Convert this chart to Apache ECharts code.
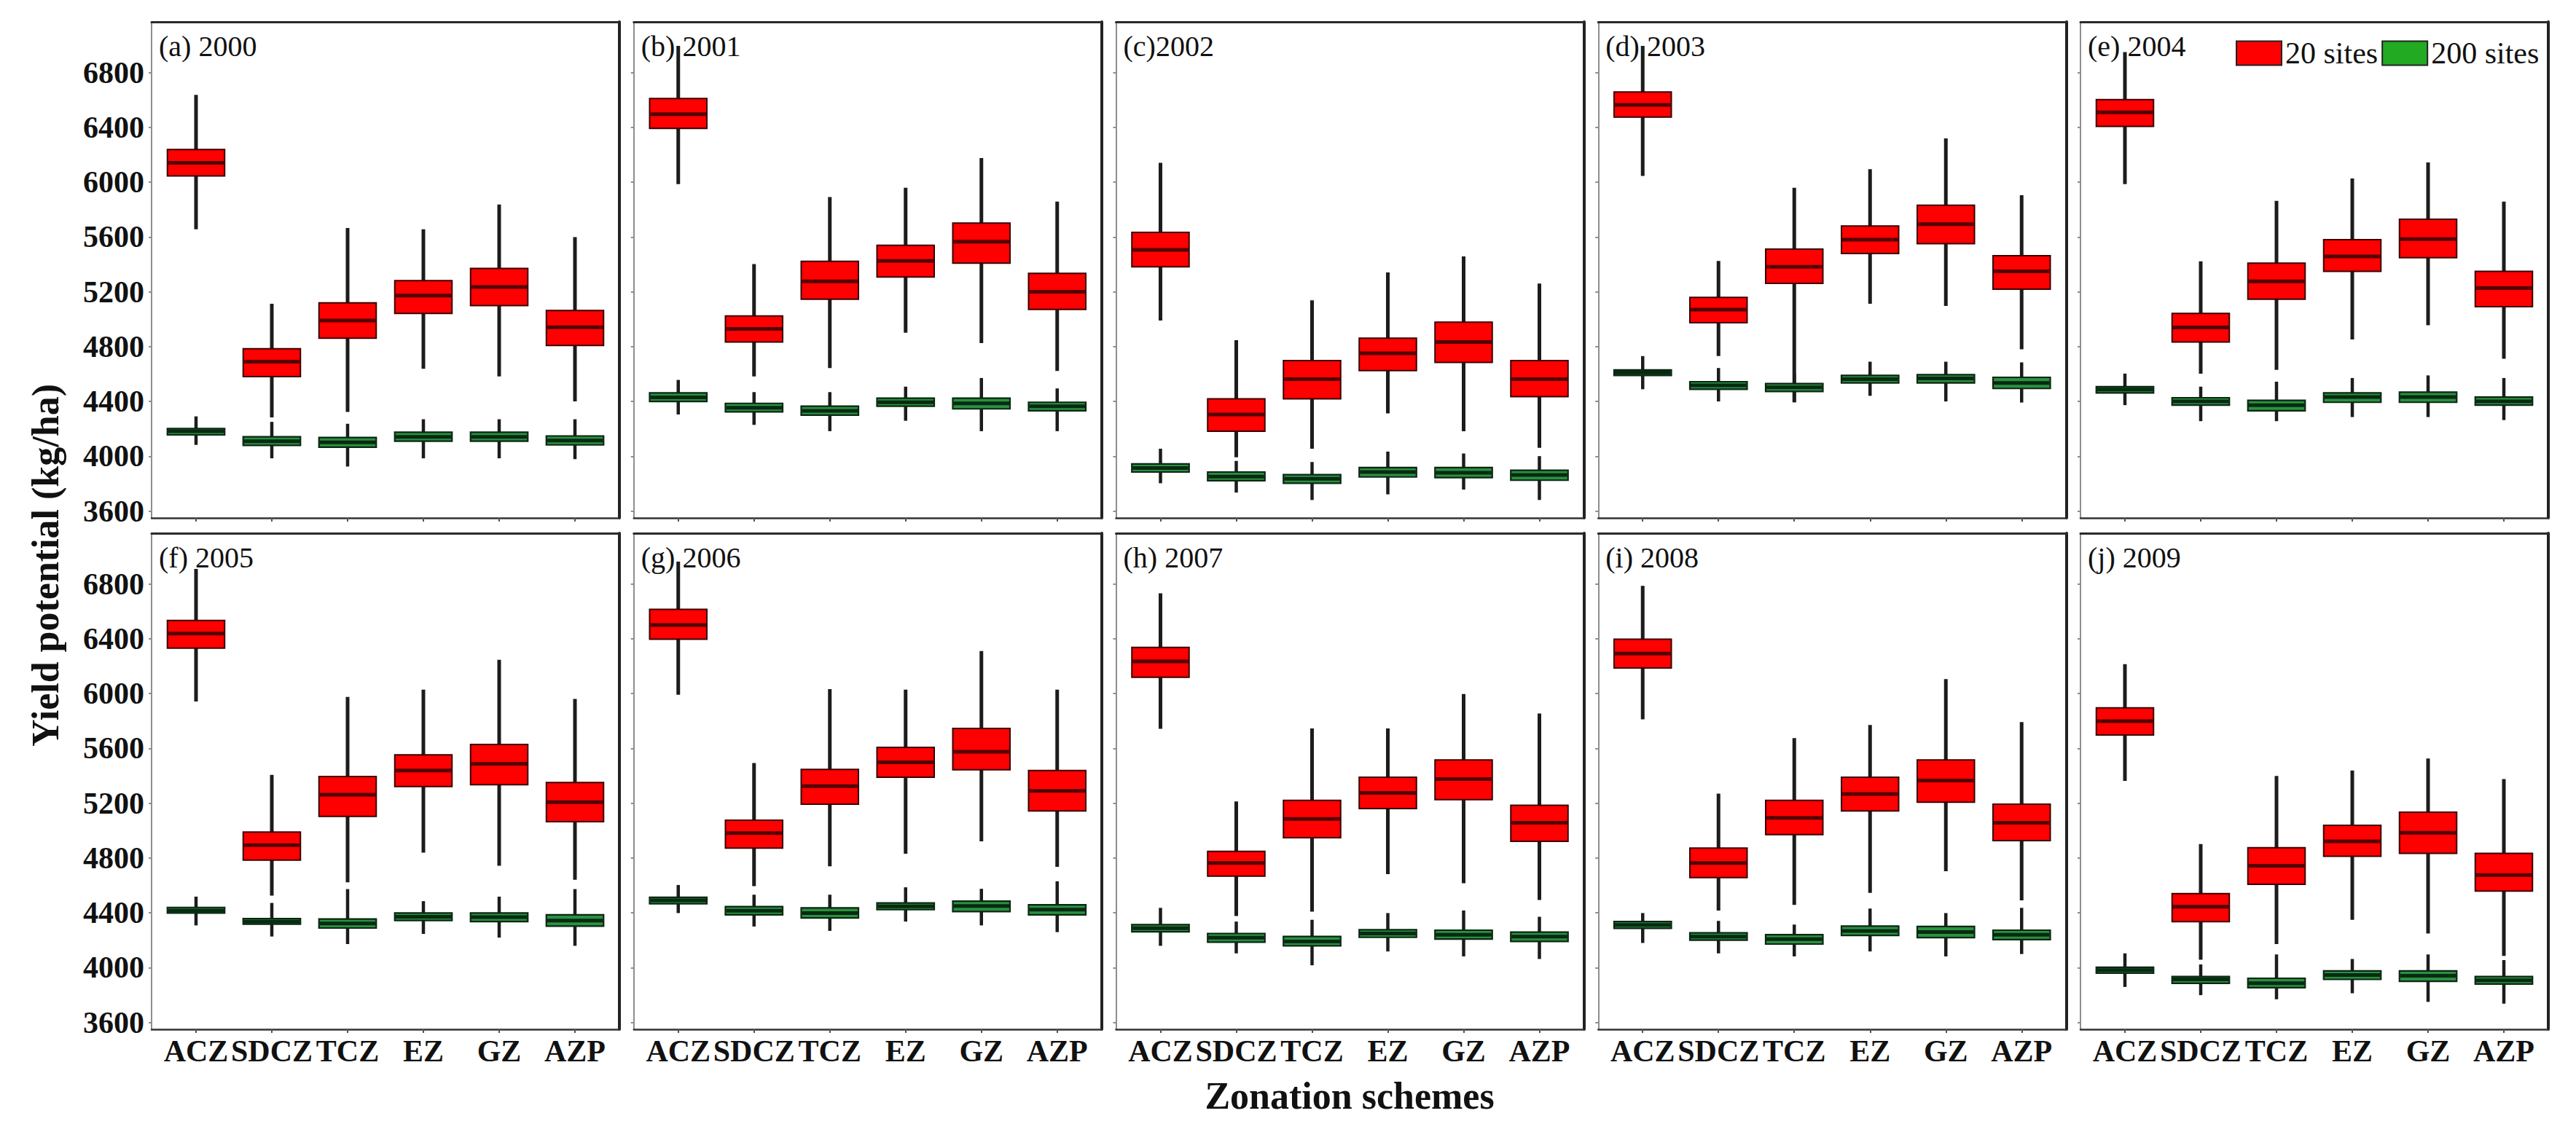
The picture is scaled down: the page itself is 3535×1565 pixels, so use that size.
<!DOCTYPE html>
<html><head><meta charset="utf-8">
<script src="https://cdn.jsdelivr.net/npm/echarts@6/dist/echarts.min.js"></script>
<style>html,body{margin:0;padding:0;background:#fff;overflow:hidden}#main{width:3535px;height:1565px}</style>
</head><body><div id="main"></div>
<script>
// ---------- data ----------
const categories = ['ACZ', 'SDCZ', 'TCZ', 'EZ', 'GZ', 'AZP'];
const years = ['2000', '2001', '2002', '2003', '2004', '2005', '2006', '2007', '2008', '2009'];
const panelLabels = ['(a) 2000', '(b) 2001', '(c)2002', '(d) 2003', '(e) 2004', '(f) 2005', '(g) 2006', '(h) 2007', '(i) 2008', '(j) 2009'];
const yTicks = [3600, 4000, 4400, 4800, 5200, 5600, 6000, 6400, 6800];
const seriesNames = ['20 sites', '200 sites'];

// each entry: [min, Q1, median, Q3, max] per category (ACZ..AZP)
const red2000 = [[5656, 6046, 6141, 6239, 6637], [4283, 4581, 4690, 4785, 5113], [4324, 4861, 4991, 5119, 5666], [4639, 5043, 5173, 5281, 5656], [4582, 5100, 5235, 5371, 5837], [4400, 4809, 4942, 5064, 5599]];
const green2000 = [[4083, 4156, 4183, 4202, 4291], [3985, 4080, 4110, 4142, 4251], [3925, 4066, 4102, 4137, 4237], [3985, 4110, 4142, 4175, 4270], [3985, 4110, 4142, 4175, 4270], [3979, 4083, 4115, 4148, 4270]];
const red2001 = [[5986, 6393, 6496, 6610, 6995], [4582, 4834, 4929, 5024, 5403], [4644, 5146, 5276, 5422, 5891], [4902, 5308, 5425, 5539, 5959], [4826, 5409, 5566, 5702, 6176], [4622, 5072, 5200, 5335, 5859]];
const green2001 = [[4305, 4400, 4430, 4462, 4557], [4229, 4324, 4354, 4386, 4468], [4183, 4300, 4332, 4365, 4468], [4259, 4365, 4394, 4424, 4508], [4183, 4346, 4386, 4424, 4571], [4183, 4332, 4365, 4394, 4495]];
const red2002 = [[4991, 5382, 5506, 5634, 6141], [3993, 4183, 4305, 4419, 4847], [4055, 4419, 4563, 4698, 5138], [4313, 4625, 4752, 4861, 5341], [4183, 4685, 4834, 4978, 5458], [4061, 4435, 4563, 4698, 5260]];
const green2002 = [[3803, 3885, 3914, 3944, 4055], [3735, 3822, 3852, 3885, 3966], [3681, 3803, 3836, 3866, 3958], [3722, 3849, 3885, 3917, 4034], [3757, 3844, 3879, 3917, 4020], [3681, 3825, 3863, 3898, 4001]];
const red2003 = [[6046, 6475, 6564, 6659, 6995], [4731, 4975, 5070, 5159, 5425], [4394, 5262, 5382, 5512, 5959], [5113, 5479, 5580, 5680, 6095], [5097, 5552, 5693, 5832, 6320], [4780, 5219, 5349, 5463, 5905]];
const green2003 = [[4489, 4590, 4611, 4630, 4731], [4400, 4489, 4517, 4544, 4644], [4394, 4473, 4503, 4530, 4603], [4441, 4535, 4563, 4590, 4690], [4400, 4535, 4568, 4595, 4690], [4392, 4495, 4535, 4576, 4685]];
const red2004 = [[5986, 6407, 6510, 6602, 6949], [4603, 4834, 4940, 5043, 5422], [4630, 5146, 5276, 5409, 5864], [4853, 5349, 5458, 5580, 6027], [4956, 5449, 5585, 5729, 6144], [4712, 5091, 5227, 5349, 5859]];
const green2004 = [[4373, 4462, 4487, 4508, 4603], [4256, 4373, 4400, 4427, 4508], [4256, 4332, 4373, 4408, 4544], [4286, 4394, 4432, 4462, 4571], [4286, 4394, 4432, 4468, 4590], [4264, 4373, 4400, 4432, 4571]];
const red2005 = [[5942, 6332, 6438, 6533, 6909], [4526, 4785, 4894, 4989, 5406], [4622, 5104, 5262, 5395, 5975], [4839, 5321, 5439, 5553, 6029], [4744, 5335, 5488, 5629, 6247], [4641, 5065, 5207, 5351, 5961]];
const green2005 = [[4308, 4398, 4417, 4439, 4518], [4227, 4317, 4336, 4357, 4472], [4172, 4289, 4322, 4355, 4573], [4246, 4344, 4371, 4398, 4485], [4219, 4336, 4368, 4398, 4518], [4159, 4303, 4344, 4385, 4573]];
const red2006 = [[5991, 6397, 6500, 6615, 6963], [4594, 4872, 4981, 5076, 5493], [4739, 5193, 5324, 5447, 6032], [4831, 5389, 5498, 5607, 6029], [4921, 5444, 5575, 5746, 6310], [4736, 5144, 5289, 5439, 6029]];
const green2006 = [[4398, 4466, 4491, 4513, 4603], [4300, 4385, 4415, 4445, 4532], [4268, 4363, 4398, 4436, 4532], [4336, 4423, 4447, 4472, 4586], [4308, 4409, 4450, 4485, 4575], [4259, 4385, 4423, 4458, 4630]];
const red2007 = [[5743, 6119, 6234, 6337, 6732], [4377, 4668, 4763, 4848, 5212], [4409, 4948, 5085, 5221, 5746], [4682, 5161, 5275, 5389, 5746], [4616, 5226, 5376, 5515, 5997], [4494, 4921, 5057, 5185, 5855]];
const green2007 = [[4159, 4262, 4287, 4314, 4436], [4104, 4186, 4219, 4249, 4336], [4017, 4159, 4191, 4227, 4349], [4118, 4221, 4249, 4276, 4398], [4082, 4208, 4240, 4273, 4417], [4063, 4191, 4227, 4259, 4371]];
const red2008 = [[5812, 6187, 6291, 6397, 6786], [4417, 4657, 4763, 4872, 5270], [4458, 4970, 5093, 5221, 5675], [4545, 5144, 5267, 5389, 5771], [4703, 5207, 5365, 5515, 6106], [4491, 4927, 5057, 5193, 5792]];
const green2008 = [[4180, 4287, 4311, 4336, 4398], [4104, 4200, 4227, 4254, 4341], [4082, 4172, 4208, 4240, 4314], [4118, 4235, 4268, 4303, 4431], [4082, 4219, 4259, 4300, 4398], [4099, 4205, 4240, 4273, 4436]];
const red2009 = [[5362, 5697, 5798, 5896, 6215], [4058, 4336, 4445, 4540, 4902], [4172, 4608, 4744, 4875, 5398], [4349, 4812, 4921, 5038, 5439], [4249, 4834, 4984, 5134, 5526], [4085, 4559, 4676, 4834, 5376]];
const green2009 = [[3859, 3960, 3982, 4003, 4104], [3799, 3886, 3914, 3935, 4023], [3769, 3854, 3886, 3922, 4096], [3813, 3914, 3946, 3976, 4063], [3750, 3900, 3941, 3976, 4096], [3737, 3880, 3908, 3935, 4055]];

const redByYear = [red2000, red2001, red2002, red2003, red2004, red2005, red2006, red2007, red2008, red2009];
const greenByYear = [green2000, green2001, green2002, green2003, green2004, green2005, green2006, green2007, green2008, green2009];

// ---------- layout & style ----------
const FONT = '"Liberation Serif","Times New Roman",Times,serif';
const Y_MIN = 3550, Y_MAX = 7170;
const X_MIN = -0.5865, X_MAX = 5.5865;
const PANEL_W = 642, PANEL_H = 681, COL_STEP = 661.75, LEFT0 = 208, TOPS = [30, 732];
const BOX_W = 0.755;
const redStyle = { fill: '#ff0000', border: '#3a0000', borderW: 2, median: '#520000', medianW: 5, whisker: '#1c1c1c', whiskerW: 5 };
const greenStyle = { fill: '#2a9140', border: '#0b2612', borderW: 2.2, median: '#082a12', medianW: 5, whisker: '#1c1c1c', whiskerW: 4.5 };

function makeRender(c) {
  return function (params, api) {
    const i = api.value(0);
    const pLo = api.coord([i, api.value(1)]);
    const pQ1 = api.coord([i, api.value(2)]);
    const pMd = api.coord([i, api.value(3)]);
    const pQ3 = api.coord([i, api.value(4)]);
    const pHi = api.coord([i, api.value(5)]);
    const w = api.size([BOX_W, 0])[0];
    const cx = pMd[0];
    const x0 = cx - w / 2;
    return {
      type: 'group',
      children: [
        { type: 'line', shape: { x1: cx, y1: pHi[1], x2: cx, y2: pLo[1] }, style: { stroke: c.whisker, lineWidth: c.whiskerW } },
        { type: 'rect', shape: { x: x0, y: pQ3[1], width: w, height: pQ1[1] - pQ3[1] }, style: { fill: c.fill, stroke: c.border, lineWidth: c.borderW } },
        { type: 'line', shape: { x1: x0 + 1, y1: pMd[1], x2: x0 + w - 1, y2: pMd[1] }, style: { stroke: c.median, lineWidth: c.medianW } }
      ]
    };
  };
}

const grids = [], xAxes = [], yAxes = [], series = [], titles = [];
years.forEach(function (yr, p) {
  const row = p < 5 ? 0 : 1, col = p % 5;
  const left = LEFT0 + col * COL_STEP, top = TOPS[row];
  grids.push({ left: left, top: top, width: PANEL_W, height: PANEL_H, show: false, containLabel: false, outerBoundsMode: 'none' });
  xAxes.push({
    gridIndex: p, type: 'value', position: 'bottom', min: X_MIN, max: X_MAX,
    axisLine: { show: true, onZero: false, lineStyle: { color: '#333', width: 2.5 } },
    axisTick: { show: true, customValues: [0, 1, 2, 3, 4, 5], length: 5, lineStyle: { color: '#555', width: 2 } },
    axisLabel: {
      show: row === 1, customValues: [0, 1, 2, 3, 4, 5], margin: 9,
      formatter: function (v) { return categories[Math.round(v)]; },
      fontFamily: FONT, fontSize: 42, fontWeight: 'bold', color: '#111'
    },
    splitLine: { show: false }
  });
  xAxes.push({
    gridIndex: p, type: 'value', position: 'top', min: X_MIN, max: X_MAX,
    axisLine: { show: true, onZero: false, lineStyle: { color: '#2a2a2a', width: 3 } },
    axisTick: { show: false }, axisLabel: { show: false }, splitLine: { show: false }
  });
  yAxes.push({
    gridIndex: p, type: 'value', position: 'left', min: Y_MIN, max: Y_MAX,
    axisLine: { show: true, onZero: false, lineStyle: { color: '#8e8e8e', width: 2 } },
    axisTick: { show: true, customValues: yTicks, length: 4, lineStyle: { color: '#8e8e8e', width: 2 } },
    axisLabel: {
      show: col === 0, customValues: yTicks, margin: 10,
      formatter: function (v) { return String(Math.round(v)); },
      fontFamily: FONT, fontSize: 42, fontWeight: 'bold', color: '#111'
    },
    splitLine: { show: false }
  });
  yAxes.push({
    gridIndex: p, type: 'value', position: 'right', min: Y_MIN, max: Y_MAX,
    axisLine: { show: true, onZero: false, lineStyle: { color: '#222', width: 4 } },
    axisTick: { show: false }, axisLabel: { show: false }, splitLine: { show: false }
  });
  const toData = function (arr) { return arr.map(function (s, i) { return [i].concat(s); }); };
  series.push({
    name: seriesNames[0], type: 'custom', xAxisIndex: 2 * p, yAxisIndex: 2 * p, clip: false, z: 2,
    itemStyle: { color: '#ff0000' },
    encode: { x: 0, y: [1, 2, 3, 4, 5] },
    renderItem: makeRender(redStyle), data: toData(redByYear[p])
  });
  series.push({
    name: seriesNames[1], type: 'custom', xAxisIndex: 2 * p, yAxisIndex: 2 * p, clip: false, z: 3,
    itemStyle: { color: '#22aa22' },
    encode: { x: 0, y: [1, 2, 3, 4, 5] },
    renderItem: makeRender(greenStyle), data: toData(greenByYear[p])
  });
  titles.push({
    text: panelLabels[p], left: left + 10, top: top + 13, padding: 0, z: 1,
    textStyle: { fontFamily: FONT, fontSize: 40, fontWeight: 'normal', color: '#111' }
  });
});

const option = {
  animation: false,
  backgroundColor: '#ffffff',
  title: titles,
  grid: grids,
  xAxis: xAxes,
  yAxis: yAxes,
  legend: {
    left: 3068, top: 52, orient: 'horizontal', padding: 0, itemGap: 5,
    itemWidth: 62, itemHeight: 33, icon: 'rect', selectedMode: false,
    data: [
      { name: seriesNames[0], itemStyle: { color: '#ff0000', borderColor: '#222', borderWidth: 2 } },
      { name: seriesNames[1], itemStyle: { color: '#22aa22', borderColor: '#222', borderWidth: 2 } }
    ],
    textStyle: { fontFamily: FONT, fontSize: 42, color: '#111', padding: [0, 0, 0, 0] }
  },
  graphic: [
    { type: 'text', x: 62, y: 776, rotation: Math.PI / 2,
      style: { text: 'Yield potential (kg/ha)', font: 'bold 52px ' + FONT, fill: '#111', textAlign: 'center', textVerticalAlign: 'middle' } },
    { type: 'text', x: 1852, y: 1504,
      style: { text: 'Zonation schemes', font: 'bold 52px ' + FONT, fill: '#111', textAlign: 'center', textVerticalAlign: 'middle' } }
  ],
  series: series
};

const chart = echarts.init(document.getElementById('main'), null, { renderer: 'svg', width: 3535, height: 1565 });
chart.setOption(option);
</script>
</body></html>
